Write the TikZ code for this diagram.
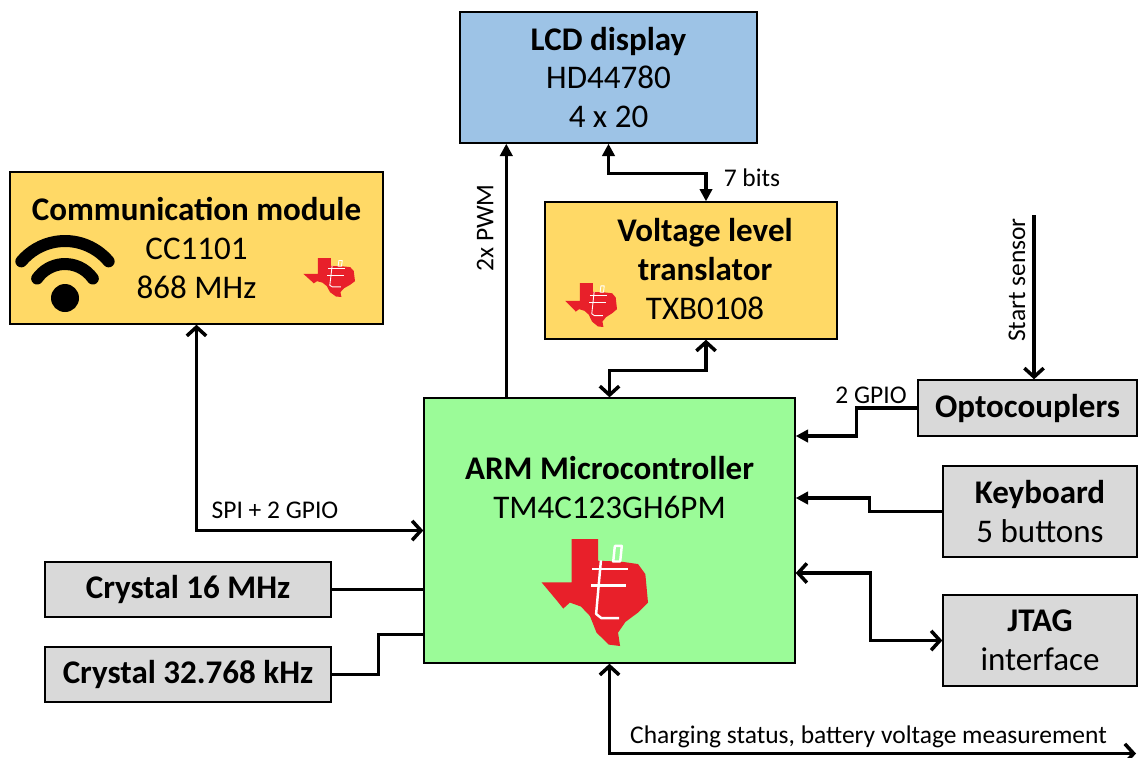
\documentclass[tikz,border=0pt]{standalone}
\usepackage{fontspec}
\setmainfont{Carlito}
\usetikzlibrary{arrows.meta}

\definecolor{boxgold}{HTML}{FFD966}
\definecolor{boxblue}{HTML}{9DC3E6}
\definecolor{boxgreen}{HTML}{9BFB98}
\definecolor{boxgray}{HTML}{D9D9D9}
\definecolor{tired}{HTML}{E8202A}

\newcommand{\boxfont}{\fontsize{18.8}{22}\selectfont}
\newcommand{\labfont}{\fontsize{14.5}{16}\selectfont}

% red texas outline with the white cuts of the letters
\newcommand{\tilogo}[4]{%
  \begin{scope}[shift={#1}, xscale=#2, yscale=#3]
    \fill[tired] (.286,1) -- (.534,1) -- (.534,.797) -- (.752,.788) -- (.907,.766)
      -- (.975,.672) -- (1,.406) -- (.907,.313) -- (.789,.225) -- (.720,.125)
      -- (.739,0) -- (.634,.013) -- (.519,.125) -- (.457,.281) -- (.373,.369)
      -- (.270,.406) -- (.208,.350) -- (.137,.438) -- (.006,.594) -- (.286,.594) -- cycle;
    \begin{scope}[white, line width=#4, line join=round]
      \draw (.56,.80) -- (.515,.30) -- (.565,.26) -- (.73,.26);
      \draw (.48,.72) -- (.81,.72);
      \draw (.47,.565) -- (.79,.565);
      \draw (.69,.935) -- (.755,.935) -- (.74,.79) -- (.675,.79) -- cycle;
    \end{scope}
  \end{scope}}

\begin{document}
\begin{tikzpicture}[
    box/.style={
        rectangle,
        draw=black,
        line width=0.8pt,
        align=center,
        inner sep=0pt,
        font=\boxfont
    },
    lab/.style={font=\labfont, inner sep=1pt},
    wire/.style={line width=2pt},
    tri/.style={wire, -{Triangle[width=7pt,length=7pt]}},
    dbltri/.style={wire, {Triangle[width=7pt,length=7pt]}-{Triangle[width=7pt,length=7pt]}},
    barb/.style={wire, -{Straight Barb[width=11pt,length=5pt]}},
    dblbarb/.style={wire, {Straight Barb[width=11pt,length=5pt]}-{Straight Barb[width=11pt,length=5pt]}}
]
\useasboundingbox (0,0) rectangle (22.76,-15.14);

\node[box, fill=boxblue, minimum width=5.94cm, minimum height=2.62cm] (lcd) at (12.17,-1.55) {\textbf{LCD display}\\HD44780\\4 x 20};

\node[box, fill=boxgold, minimum width=7.46cm, minimum height=3.04cm] (comm) at (3.93,-4.96) {\textbf{Communication module}\\CC1101\\868 MHz};

\node[box, fill=boxgold, minimum width=5.84cm, minimum height=2.74cm] (vlt) at (13.82,-5.41) {};
\node[font=\boxfont, align=center] (vlttext) at (14.10,-5.38) {\textbf{Voltage level}\\\textbf{translator}\\TXB0108};

\node[box, fill=boxgreen, minimum width=7.42cm, minimum height=5.30cm] (mcu) at (12.19,-10.61) {};
\node[font=\boxfont, align=center] (mcutext) at (12.19,-9.75) {\textbf{ARM Microcontroller}\\TM4C123GH6PM};

\node[box, fill=boxgray, minimum width=4.38cm, minimum height=1.12cm] (opto) at (20.55,-8.16) {\textbf{Optocouplers}};
\node[box, fill=boxgray, minimum width=3.88cm, minimum height=1.82cm] (keyb) at (20.80,-10.23) {\textbf{Keyboard}\\5 buttons};
\node[box, fill=boxgray, minimum width=3.88cm, minimum height=1.82cm] (jtag) at (20.80,-12.81) {\textbf{JTAG}\\interface};

\node[box, fill=boxgray, minimum width=5.72cm, minimum height=1.10cm] (xtal16) at (3.76,-11.79) {\textbf{Crystal 16 MHz}};
\node[box, fill=boxgray, minimum width=5.72cm, minimum height=1.10cm] (xtal32) at (3.76,-13.49) {\textbf{Crystal 32.768 kHz}};

% logos and wifi sign
\tilogo{(10.82,-12.92)}{2.14}{2.14}{1.4pt}
\tilogo{(6.06,-5.94)}{1.04}{0.78}{0.5pt}
\tilogo{(11.30,-6.54)}{1.04}{0.88}{0.5pt}
\fill (1.30,-5.96) circle (0.28);
\draw[line width=0.24cm, line cap=round] (1.30,-5.96) ++(35:0.68) arc (35:145:0.68);
\draw[line width=0.24cm, line cap=round] (1.30,-5.96) ++(40:1.14) arc (40:140:1.14);

% connections
\coordinate (pwmfoot) at ([xshift=1.66cm]mcu.north west);
\draw[tri] (pwmfoot) -- (pwmfoot |- lcd.south);
\node[lab, rotate=90] (pwmlab) at (9.70,-4.56) {2x PWM};

\draw[dbltri] (lcd.south) -- ++(0,-0.60) -| ([xshift=0.30cm]vlt.north);
\node[lab] (bitslab) at (15.04,-3.56) {7 bits};

\draw[dblbarb] ([xshift=0.30cm]vlt.south) -- ++(0,-0.62) -| (mcu.north);

\draw[dblbarb] (comm.south) |- (mcu.west);
\node[lab] (spilab) at (5.50,-10.20) {SPI + 2 GPIO};

\coordinate (sensor) at (20.68,-4.30);
\draw[barb] (sensor) -- (sensor |- opto.north);
\node[lab, rotate=90] (sensorlab) at (20.34,-5.60) {Start sensor};

\draw[tri] (opto.west) -- ++(-1.22,0) |- ([yshift=1.89cm]mcu.east);
\node[lab] (gpiolab) at (17.42,-7.90) {2 GPIO};

\draw[tri] (keyb.west) -- ++(-1.46,0) |- ([yshift=0.65cm]mcu.east);
\draw[dblbarb] ([yshift=-0.85cm]mcu.east) -- ++(1.50,0) |- (jtag.west);

\draw[wire] (xtal16.east) -- (xtal16.east -| mcu.west);
\draw[wire] (xtal32.east) -- ++(0.94,0) |- ([yshift=-2.08cm]mcu.west);

\coordinate (batt) at (22.72,-15.07);
\draw[dblbarb] (mcu.south) |- (batt);
\node[lab] (battlab) at (17.37,-14.74) {Charging status, battery voltage measurement};

\end{tikzpicture}
\end{document}
